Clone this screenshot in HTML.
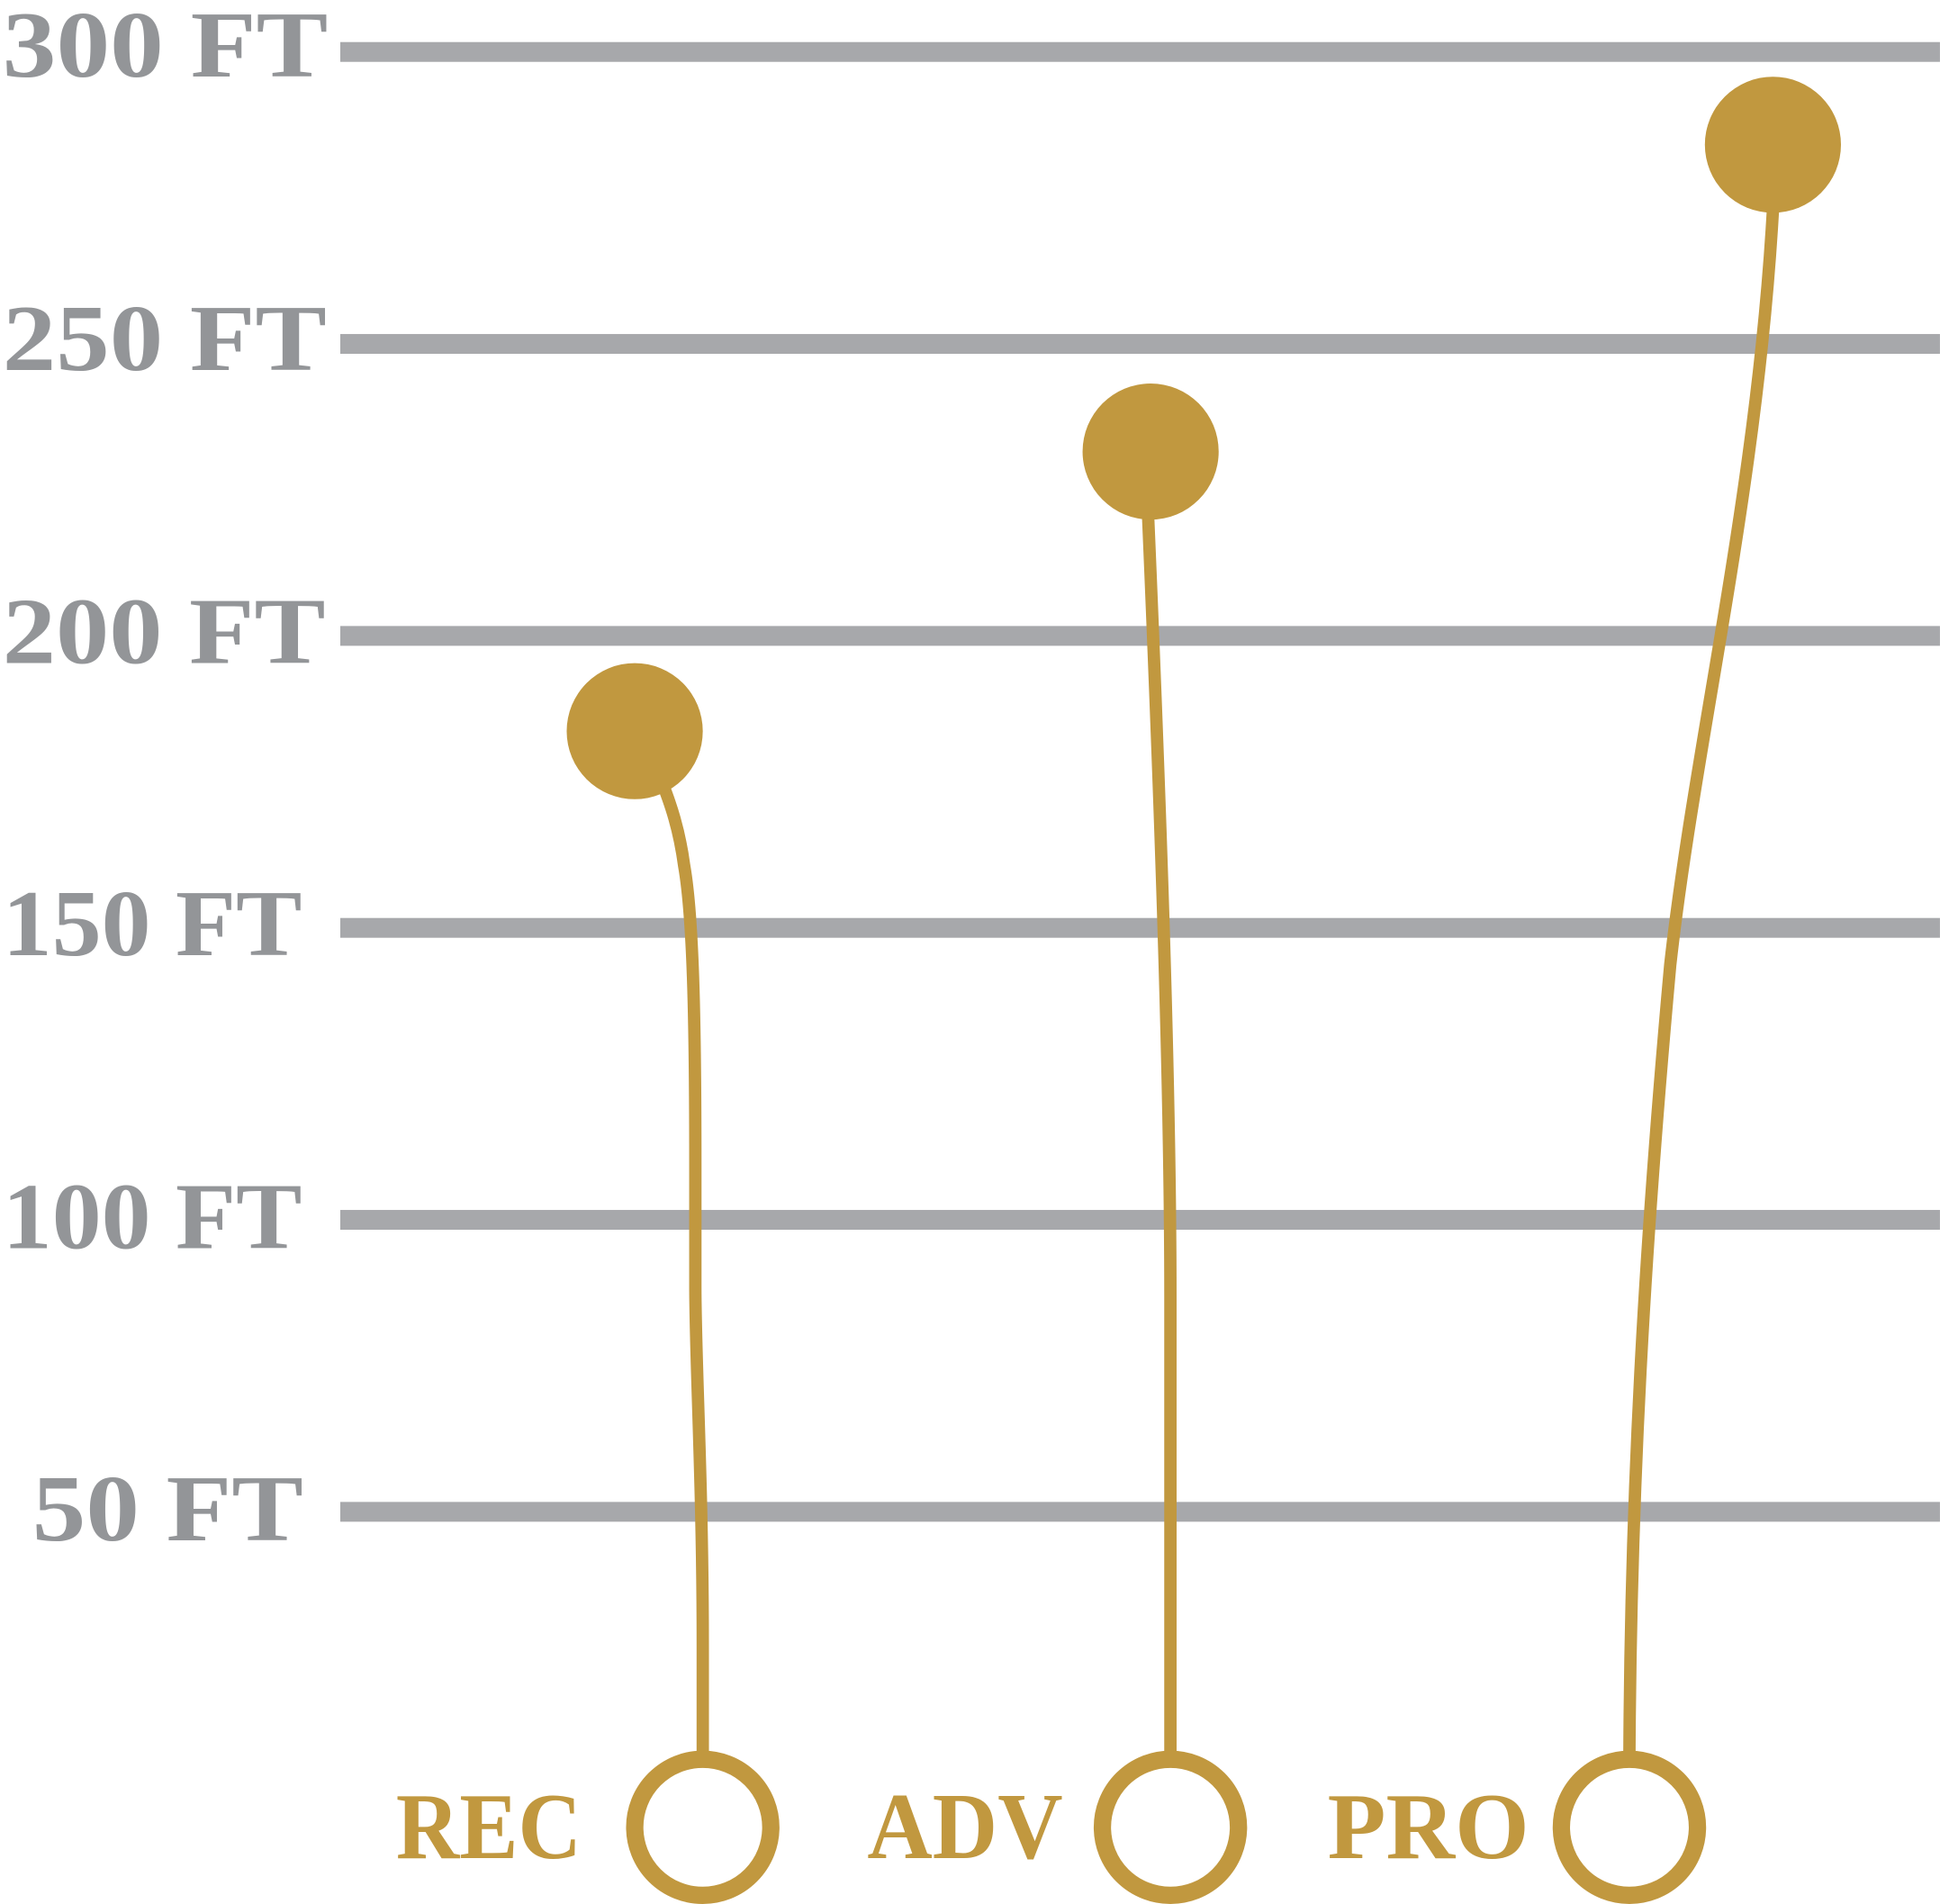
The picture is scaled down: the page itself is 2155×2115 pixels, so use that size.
<!DOCTYPE html>
<html><head><style>html,body{margin:0;padding:0;background:#fff}svg{display:block}</style></head>
<body>
<svg width="2155" height="2115" viewBox="0 0 1568 1539" xmlns="http://www.w3.org/2000/svg">
<g fill="#a7a8ab">
<rect x="275" y="34" width="1293" height="16"/>
<rect x="275" y="270" width="1293" height="16"/>
<rect x="275" y="506" width="1293" height="16"/>
<rect x="275" y="742" width="1293" height="16"/>
<rect x="275" y="978" width="1293" height="16"/>
<rect x="275" y="1214" width="1293" height="16"/>
</g>
<g fill="#939598" font-family="Liberation Serif, serif" font-weight="bold" font-size="76">
<text x="2" y="62" textLength="263" lengthAdjust="spacingAndGlyphs">300 FT</text>
<text x="2" y="299" textLength="262" lengthAdjust="spacingAndGlyphs">250 FT</text>
<text x="2" y="536" textLength="261" lengthAdjust="spacingAndGlyphs">200 FT</text>
<text x="2" y="772" textLength="242" lengthAdjust="spacingAndGlyphs">150 FT</text>
<text x="2" y="1009" textLength="242" lengthAdjust="spacingAndGlyphs">100 FT</text>
<text x="26" y="1245" textLength="219" lengthAdjust="spacingAndGlyphs">50 FT</text>
</g>
<g fill="none" stroke="#c1983f" stroke-width="10">
<path d="M568,1420 L568,1330 C568,1200 562,1100 562,1040 L562,940 C562,820 560,740 553,700 C549,670 542,650 535,632"/>
<path d="M946,1420 L946,1050 C946,900 940,700 928,418"/>
<path d="M1317,1420 C1318,1200 1330,1000 1350,780 C1370,600 1420,400 1433,170"/>
<circle cx="568" cy="1477" r="55" stroke-width="14"/>
<circle cx="946" cy="1477" r="55" stroke-width="14"/>
<circle cx="1317" cy="1477" r="55" stroke-width="14"/>
</g>
<g fill="#c1983f">
<circle cx="513" cy="591" r="55"/>
<circle cx="930" cy="365" r="55"/>
<circle cx="1433" cy="117" r="55"/>
</g>
<g fill="#c1983f" font-family="Liberation Serif, serif" font-weight="bold" font-size="76">
<text x="320" y="1502" textLength="150" lengthAdjust="spacingAndGlyphs">REC</text>
<text x="701" y="1502" textLength="158" lengthAdjust="spacingAndGlyphs">ADV</text>
<text x="1073" y="1502" textLength="163" lengthAdjust="spacingAndGlyphs">PRO</text>
</g>
</svg>
</body></html>
